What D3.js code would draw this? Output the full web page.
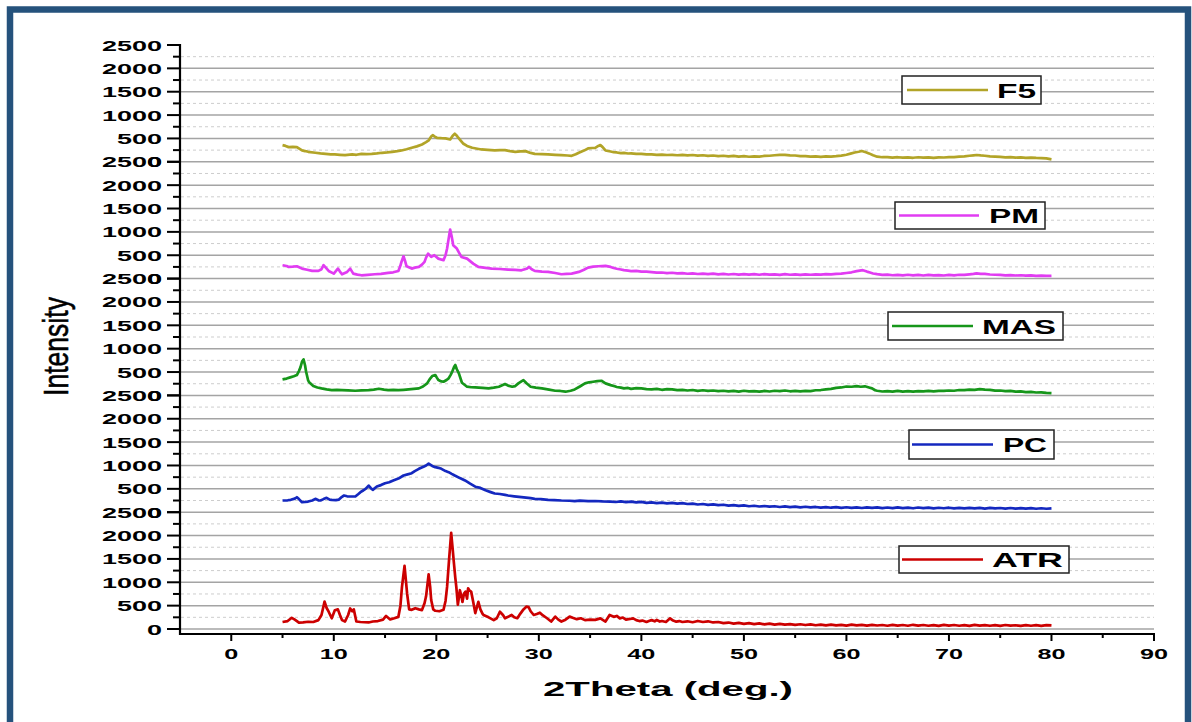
<!DOCTYPE html>
<html>
<head>
<meta charset="utf-8">
<script src="https://cdn.jsdelivr.net/npm/d3@7"></script>
<style>
  body { margin: 0; background: #fff; }
  svg { display: block; font-family: "Liberation Sans", Arial, sans-serif; }
</style>
</head>
<body>
<div id="chart"></div>
<script>
// ---------- Data (2Theta in deg, intensity in counts) ----------
const seriesNames = ['ATR', 'PC', 'MAS', 'PM', 'F5'];   // bottom -> top

const ATR = [[5,150],[5.5,170],[5.9,240],[6.2,200],[6.6,135],[7,140],[7.5,155],[8,150],[8.5,190],[8.8,300],[9.1,585],[9.3,450],[9.5,370],[9.8,230],[10.1,400],[10.4,420],[10.6,300],[10.8,190],[11.1,160],[11.4,300],[11.6,440],[11.8,380],[11.95,420],[12.2,160],[12.6,150],[13,145],[13.4,140],[13.8,160],[14.3,170],[14.8,200],[15.1,280],[15.5,205],[15.9,230],[16.3,260],[16.5,500],[16.65,900],[16.9,1350],[17.05,1000],[17.15,760],[17.35,420],[17.6,410],[17.95,445],[18.3,420],[18.6,405],[18.85,550],[19.0,700],[19.25,1170],[19.4,900],[19.5,620],[19.7,420],[19.9,390],[20.3,380],[20.7,410],[20.9,600],[21.05,900],[21.25,1500],[21.45,2060],[21.6,1700],[21.7,1450],[21.85,1100],[21.95,900],[22.1,520],[22.3,830],[22.45,700],[22.55,580],[22.7,760],[22.85,800],[23.0,650],[23.1,870],[23.25,820],[23.4,800],[23.6,580],[23.8,340],[24.0,500],[24.1,580],[24.3,420],[24.5,330],[24.6,300],[25.1,250],[25.6,190],[25.9,230],[26.2,370],[26.5,300],[26.7,230],[27.0,260],[27.35,300],[27.6,250],[27.9,230],[28.2,330],[28.5,420],[28.8,480],[29.0,470],[29.2,380],[29.5,300],[29.8,320],[30.1,350],[30.4,290],[30.8,230],[31.2,160],[31.6,265],[31.9,200],[32.2,160],[32.6,200],[33.0,265],[33.3,240],[33.7,210],[34.1,230],[34.5,190],[35.0,200],[35.5,195],[36.0,228],[36.5,160],[36.9,300],[37.3,260],[37.6,280],[37.9,228],[38.2,245],[38.5,200],[38.9,215],[39.2,228],[39.5,190],[39.8,170],[40.1,180],[40.5,150],[40.8,175],[41.0,190],[41.3,165],[41.5,193],[41.8,160],[42.0,170],[42.4,150],[42.8,229],[43.1,180],[43.4,157],[43.7,170],[44,150],[44.5,165],[45,145],[45.5,172],[46,150],[46.5,165],[47,140],[47.5,150],[48,125],[48.5,138],[49,115],[49.5,130],[50,110],[50.5,126],[51,105],[51.5,120],[52,100],[52.5,115],[53,95],[53.5,110],[54,92],[54.5,106],[55,88],[55.5,102],[56,85],[56.5,98],[57,80],[57.5,95],[58,78],[58.5,92],[59,76],[59.5,90],[60,74],[60.5,92],[61,76],[61.5,88],[62,72],[62.5,90],[63,75],[63.5,86],[64,70],[64.5,88],[65,72],[65.5,85],[66,70],[66.5,90],[67,74],[67.5,86],[68,70],[68.5,84],[69,68],[69.5,88],[70,72],[70.5,86],[71,70],[71.5,82],[72,68],[72.5,87],[73,72],[73.5,84],[74,69],[74.5,82],[75,68],[75.5,86],[76,72],[76.5,80],[77,66],[77.5,84],[78,70],[78.5,82],[79,68],[79.5,84],[80,78]];

const PC = [[5,250],[5.5,255],[5.8,265],[6.2,290],[6.4,320],[6.6,280],[6.9,214],[7.2,220],[7.5,228],[7.9,250],[8.2,286],[8.5,255],[8.7,250],[9.0,280],[9.3,307],[9.6,270],[9.8,264],[10.2,260],[10.5,270],[10.8,330],[11.0,357],[11.3,340],[11.6,336],[12.1,336],[12.4,390],[12.6,428],[12.9,470],[13.1,500],[13.4,570],[13.6,520],[13.8,478],[14.2,550],[14.6,580],[15.0,620],[15.4,640],[15.8,678],[16.3,720],[16.8,785],[17.2,810],[17.6,835],[17.9,880],[18.3,928],[18.8,978],[19.0,1000],[19.25,1040],[19.6,990],[19.9,964],[20.2,950],[20.5,928],[20.9,880],[21.2,857],[21.5,820],[21.8,785],[22.3,730],[22.8,680],[23.3,610],[23.8,546],[24.3,520],[24.8,470],[25.3,430],[25.7,400],[26.2,390],[26.7,370],[27.0,357],[27.6,340],[28.3,321],[29.2,300],[29.6,286],[30.2,280],[30.9,264],[31.5,260],[32.2,250],[33.0,245],[33.5,236],[34.0,246],[34.8,236],[35.5,240],[36.2,232],[37,228],[37.5,218],[38,232],[38.5,215],[39,228],[39.5,210],[40,220],[40.5,200],[41,212],[41.5,195],[42,205],[42.5,188],[43,200],[43.5,182],[44,194],[44.5,175],[45,185],[45.5,165],[46,176],[46.5,158],[47,168],[47.5,150],[48,160],[48.5,142],[49,152],[49.5,135],[50,145],[50.5,128],[51,138],[51.5,122],[52,132],[52.5,118],[53,128],[53.5,112],[54,124],[54.5,108],[55,120],[55.5,104],[56,116],[56.5,102],[57,112],[57.5,98],[58,110],[58.5,96],[59,108],[59.5,94],[60,106],[60.5,92],[61,104],[61.5,90],[62,105],[62.5,92],[63,102],[63.5,88],[64,100],[64.5,86],[65,102],[65.5,88],[66,98],[66.5,84],[67,100],[67.5,86],[68,97],[68.5,82],[69,95],[69.5,84],[70,96],[70.5,82],[71,93],[71.5,80],[72,94],[72.5,82],[73,92],[73.5,78],[74,92],[74.5,80],[75,90],[75.5,78],[76,90],[76.5,76],[77,88],[77.5,76],[78,86],[78.5,74],[79,84],[79.5,74],[80,80]];

const MAS = [[5,343],[5.4,360],[5.75,386],[6.1,410],[6.4,436],[6.6,520],[6.75,600],[6.9,720],[7.05,771],[7.2,640],[7.3,507],[7.5,320],[7.6,280],[8.0,200],[8.4,170],[8.8,150],[9.3,130],[9.8,114],[10.3,118],[10.8,114],[11.4,108],[12.1,100],[12.7,106],[13.4,114],[13.9,125],[14.4,143],[14.9,125],[15.3,114],[15.8,118],[16.3,114],[16.8,120],[17.3,128],[17.8,138],[18.3,150],[18.7,190],[19.1,257],[19.4,360],[19.6,414],[19.9,436],[20.05,380],[20.2,328],[20.5,300],[20.7,293],[21.0,330],[21.2,364],[21.4,440],[21.55,507],[21.75,620],[21.85,650],[22.0,560],[22.2,471],[22.5,271],[23.0,186],[23.4,175],[23.8,171],[24.5,160],[25.1,150],[25.6,165],[26.1,186],[26.7,243],[27.0,210],[27.4,186],[27.7,200],[28.0,257],[28.3,300],[28.5,328],[28.8,260],[29.2,186],[29.7,165],[30.3,150],[31.0,125],[31.6,100],[32.1,95],[32.6,79],[33.1,100],[33.5,128],[34.0,190],[34.5,257],[34.9,280],[35.3,293],[35.7,305],[36.1,314],[36.5,257],[37,220],[37.4,195],[37.6,180],[38,165],[38.3,150],[38.7,160],[39,140],[39.5,155],[40,150],[40.5,135],[41,130],[41.5,140],[42,120],[42.5,135],[43,130],[43.5,112],[44,120],[44.5,105],[45,115],[45.5,98],[46,110],[46.5,95],[47,105],[47.5,90],[48,100],[48.5,85],[49,95],[49.5,82],[50,100],[50.5,86],[51,92],[51.5,80],[52,95],[52.5,84],[53,100],[53.5,90],[54,105],[54.5,88],[55,98],[55.5,85],[56,95],[56.5,92],[57,110],[57.5,115],[58,130],[58.5,140],[59,160],[59.5,170],[60,190],[60.5,185],[61,200],[61.4,185],[61.8,195],[62.2,170],[62.5,150],[62.8,110],[63,100],[63.5,84],[64,90],[64.5,80],[65,95],[65.5,82],[66,90],[66.5,80],[67,92],[67.5,85],[68,95],[68.5,88],[69,98],[69.5,95],[70,105],[70.5,100],[71,115],[71.5,112],[72,125],[72.5,120],[73,135],[73.5,122],[74,120],[74.5,104],[75,105],[75.5,90],[76,95],[76.5,80],[77,85],[77.5,72],[78,75],[78.5,62],[79,65],[79.5,55],[80,50]];

const PM = [[5,286],[5.4,270],[5.6,250],[6.0,255],[6.4,264],[6.9,214],[7.4,190],[7.9,164],[8.5,164],[8.8,200],[9.0,286],[9.2,240],[9.5,164],[10.0,107],[10.2,160],[10.4,214],[10.6,150],[10.8,93],[11.3,143],[11.6,214],[11.9,107],[12.3,85],[12.7,71],[13.3,80],[14.0,93],[14.6,100],[15.3,121],[15.8,135],[16.3,164],[16.5,280],[16.6,357],[16.8,478],[16.95,380],[17.1,264],[17.6,214],[17.9,235],[18.3,250],[18.6,300],[18.85,357],[19.0,450],[19.2,535],[19.5,464],[19.8,500],[20.2,428],[20.7,393],[20.9,500],[21.05,643],[21.2,850],[21.35,1050],[21.5,900],[21.65,714],[22.0,643],[22.2,560],[22.45,464],[23.0,428],[23.6,321],[24.1,250],[24.8,230],[25.4,214],[26.2,205],[27.0,193],[27.7,185],[28.3,178],[28.8,210],[29.05,250],[29.3,200],[29.6,164],[30.3,150],[30.9,143],[31.6,120],[32.2,93],[32.7,100],[33.2,107],[33.9,143],[34.4,190],[34.8,236],[35.3,255],[35.8,264],[36.5,271],[37,250],[37.3,228],[37.6,210],[38,195],[38.3,180],[38.7,170],[39,160],[39.5,165],[40,150],[40.5,148],[41,140],[41.5,128],[42,130],[42.5,118],[43,125],[43.5,110],[44,118],[44.5,104],[45,112],[45.5,98],[46,108],[46.5,94],[47,105],[47.5,92],[48,100],[48.5,88],[49,98],[49.5,86],[50,96],[50.5,84],[51,94],[51.5,82],[52,95],[52.5,84],[53,92],[53.5,80],[54,95],[54.5,82],[55,90],[55.5,80],[56,92],[56.5,82],[57,90],[57.5,84],[58,95],[58.5,90],[59,100],[59.5,105],[60,120],[60.5,135],[61,160],[61.3,170],[61.6,180],[62,150],[62.3,130],[62.6,110],[63,95],[63.5,80],[64,85],[64.5,72],[65,80],[65.5,70],[66,82],[66.5,70],[67,78],[67.5,66],[68,80],[68.5,68],[69,76],[69.5,66],[70,80],[70.5,70],[71,82],[71.5,78],[72,90],[72.4,100],[72.7,113],[73.1,102],[73.5,100],[74,88],[74.5,82],[75,80],[75.5,70],[76,76],[76.5,66],[77,72],[77.5,62],[78,70],[78.5,60],[79,65],[79.5,58],[80,59]];

const F5 = [[5,357],[5.3,340],[5.6,314],[6.0,320],[6.4,314],[6.9,243],[7.2,230],[7.5,214],[8.2,193],[8.7,180],[9.2,171],[9.7,160],[10.1,157],[10.6,150],[11.1,143],[11.8,157],[12.2,150],[12.7,171],[13.2,165],[13.7,171],[14.2,180],[14.7,193],[15.2,200],[15.7,214],[16.2,228],[16.6,243],[17.1,270],[17.6,300],[18.1,330],[18.6,371],[19.0,420],[19.25,457],[19.5,540],[19.65,571],[19.85,540],[20.05,514],[20.5,505],[20.9,500],[21.35,478],[21.6,560],[21.8,600],[21.95,570],[22.1,528],[22.4,450],[22.65,386],[23.0,340],[23.5,300],[24.0,280],[24.4,264],[25.0,255],[25.7,243],[26.2,250],[26.7,250],[27.2,230],[27.7,214],[28.2,225],[28.7,228],[29.2,190],[29.6,171],[30.3,165],[30.9,157],[31.6,150],[32.2,143],[32.8,135],[33.2,128],[33.6,160],[33.9,193],[34.4,240],[34.8,286],[35.2,295],[35.5,300],[35.8,340],[36.0,357],[36.2,320],[36.5,243],[37,220],[37.3,205],[37.6,200],[38,185],[38.3,190],[38.7,178],[39,180],[39.5,168],[40,170],[40.5,158],[41,160],[41.5,150],[42,155],[42.5,145],[43,150],[43.5,140],[44,148],[44.5,138],[45,145],[45.5,132],[46,140],[46.5,128],[47,135],[47.5,122],[48,130],[48.5,118],[49,125],[49.5,112],[50,120],[50.5,108],[51,118],[51.5,112],[52,125],[52.5,130],[53,140],[53.5,148],[54,150],[54.5,138],[55,135],[55.5,122],[56,120],[56.5,110],[57,118],[57.5,106],[58,115],[58.5,112],[59,120],[59.5,132],[60,150],[60.4,175],[60.8,200],[61.2,215],[61.5,230],[61.9,205],[62.2,180],[62.6,140],[63,110],[63.5,98],[64,100],[64.5,90],[65,98],[65.5,88],[66,96],[66.5,86],[67,98],[67.5,88],[68,95],[68.5,86],[69,96],[69.5,92],[70,100],[70.5,102],[71,110],[71.5,118],[72,130],[72.4,138],[72.7,145],[73.1,136],[73.5,130],[74,115],[74.5,112],[75,105],[75.5,96],[76,100],[76.5,90],[77,95],[77.5,86],[78,90],[78.5,82],[79,80],[79.5,72],[80,53]];

const seriesData = [ATR, PC, MAS, PM, F5];
const yTickValues = [0, 500, 1000, 1500, 2000, 2500];
const xTickValues = [0, 10, 20, 30, 40, 50, 60, 70, 80, 90];
const xTitle = '2Theta (deg.)';
const yTitle = 'Intensity';

// ---------- Styles ----------
const colors = { ATR: '#cc0000', PC: '#1428bf', MAS: '#16961a', PM: '#e13cf2', F5: '#b2a428' };
// legend boxes: [left, top, right, bottom, lineX0, lineX1, textX0, textX1]
const legendBoxes = {
    F5:  [902, 76, 1041, 104, 907, 988, 997, 1036],
    PM:  [895, 202, 1045, 229, 899, 979, 989, 1039],
    MAS: [888, 312, 1063, 340, 892, 973, 982, 1056],
    PC:  [909, 430, 1054, 459, 912, 993, 1003, 1047],
    ATR: [899, 546, 1069, 573, 902, 983, 992, 1063]
};

const W = 1192, H = 722;
const bottomY = 629, panelH = 116.8, axisY = 634;

const svg = d3.select('#chart').append('svg').attr('width', W).attr('height', H);

// frame
svg.append('rect')
    .attr('x', 10).attr('y', 9.5).attr('width', 1178).attr('height', 740)
    .attr('fill', 'none').attr('stroke', '#25527c').attr('stroke-width', 6.5);

const x = d3.scaleLinear().domain([-5, 90]).range([180, 1154]);
const panelScale = k => d3.scaleLinear().domain([0, 2500])
    .range([bottomY - k * panelH, bottomY - (k + 1) * panelH]);

// ---------- Grid ----------
const grid = svg.append('g');
seriesNames.forEach((name, k) => {
    const y = panelScale(k);
    d3.range(250, 2500, 250).forEach(v => {
        const major = v % 500 === 0;
        grid.append('line')
            .attr('x1', 181).attr('x2', x(90))
            .attr('y1', y(v)).attr('y2', y(v))
            .attr('stroke', major ? '#a4a4a4' : '#cdcdcd')
            .attr('stroke-width', major ? 1.5 : 1)
            .attr('stroke-dasharray', major ? null : '3,3');
    });
    grid.append('line')
        .attr('x1', 181).attr('x2', x(90))
        .attr('y1', y(0)).attr('y2', y(0))
        .attr('stroke', '#a4a4a4').attr('stroke-width', 1.5);
});

// ---------- Series ----------
const line = k => d3.line().x(d => x(d[0])).y(d => panelScale(k)(d[1]));
seriesNames.forEach((name, k) => {
    svg.append('path')
        .datum(seriesData[k])
        .attr('d', line(k))
        .attr('fill', 'none')
        .attr('stroke', colors[name])
        .attr('stroke-width', 2.7)
        .attr('stroke-linejoin', 'round');
});

// ---------- Y axis ----------
const yAxisG = svg.append('g');
seriesNames.forEach((name, k) => {
    const y = panelScale(k);
    d3.range(0, 2501, 250).forEach(v => {
        const major = v % 500 === 0;
        yAxisG.append('line')
            .attr('x1', major ? 167 : 173).attr('x2', 180)
            .attr('y1', y(v)).attr('y2', y(v))
            .attr('stroke', '#000').attr('stroke-width', 2);
    });
    yTickValues.forEach(v => {
        const label = String(v);
        const w = 15 * label.length;
        yAxisG.append('text')
            .attr('x', 162 - w).attr('y', y(v) + 5.5)
            .attr('font-size', 14).attr('font-weight', 'bold')
            .attr('textLength', w).attr('lengthAdjust', 'spacingAndGlyphs')
            .text(label);
    });
});
yAxisG.append('line')
    .attr('x1', 180).attr('x2', 180)
    .attr('y1', bottomY - 5 * panelH - 1).attr('y2', axisY + 1)
    .attr('stroke', '#000').attr('stroke-width', 2.2);

// ---------- X axis ----------
const xAxisG = svg.append('g');
xAxisG.append('line')
    .attr('x1', 179).attr('x2', x(90) + 1)
    .attr('y1', axisY).attr('y2', axisY)
    .attr('stroke', '#000').attr('stroke-width', 2.2);
d3.range(-5, 91, 5).filter(v => v > -5).forEach(v => {
    const major = v % 10 === 0;
    xAxisG.append('line')
        .attr('x1', x(v)).attr('x2', x(v))
        .attr('y1', axisY).attr('y2', axisY + (major ? 7 : 4))
        .attr('stroke', '#000').attr('stroke-width', 2);
});
xTickValues.forEach(v => {
    const label = String(v);
    const w = 14 * label.length;
    xAxisG.append('text')
        .attr('x', x(v) - w / 2).attr('y', 659)
        .attr('font-size', 14).attr('font-weight', 'bold')
        .attr('textLength', w).attr('lengthAdjust', 'spacingAndGlyphs')
        .text(label);
});

// ---------- Titles ----------
svg.append('text')
    .attr('x', 543).attr('y', 696)
    .attr('font-size', 21).attr('font-weight', 'bold')
    .attr('textLength', 250).attr('lengthAdjust', 'spacingAndGlyphs')
    .text(xTitle);

svg.append('text')
    .attr('transform', 'translate(68,396) rotate(-90)')
    .attr('font-size', 35)
    .attr('font-family', '"Liberation Sans Narrow", "Liberation Sans", Arial, sans-serif')
    .attr('stroke', '#000').attr('stroke-width', 0.6)
    .attr('textLength', 99).attr('lengthAdjust', 'spacingAndGlyphs')
    .text(yTitle);

// ---------- Legends ----------
seriesNames.forEach(name => {
    const [l, t, r, b, lx0, lx1, tx0, tx1] = legendBoxes[name];
    const cy = (t + b) / 2;
    const lg = svg.append('g');
    lg.append('rect')
        .attr('x', l).attr('y', t).attr('width', r - l).attr('height', b - t)
        .attr('fill', '#fff').attr('stroke', '#222').attr('stroke-width', 1.5);
    lg.append('line')
        .attr('x1', lx0).attr('x2', lx1).attr('y1', cy).attr('y2', cy)
        .attr('stroke', colors[name]).attr('stroke-width', 2.6);
    lg.append('text')
        .attr('x', tx0).attr('y', cy + 7.8)
        .attr('font-size', 21).attr('font-weight', 'bold')
        .attr('textLength', tx1 - tx0).attr('lengthAdjust', 'spacingAndGlyphs')
        .text(name);
});
</script>
</body>
</html>
